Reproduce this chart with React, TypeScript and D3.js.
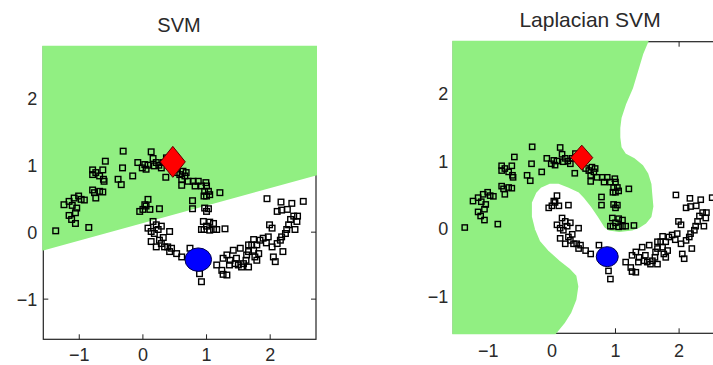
import React from 'react';
import * as d3 from 'd3';

// two moons (data units)
const upperMoon: [number, number][] = [
  [-1.37, 0.02], [-1.24, 0.41], [-1.16, 0.46], [-1.08, 0.51], [-1.01, 0.54], [-0.97, 0.49],
  [-0.92, 0.48], [-1.11, 0.40], [-1.04, 0.36], [-1.06, 0.29], [-1.16, 0.25], [-1.12, 0.19],
  [-1.06, 0.13], [-0.85, 0.07], [-0.79, 0.93], [-0.79, 0.86], [-0.74, 0.89], [-0.68, 0.84],
  [-0.63, 0.93], [-0.62, 0.79], [-0.61, 0.76], [-0.59, 1.06], [-0.79, 0.63], [-0.76, 0.59],
  [-0.74, 0.51], [-0.68, 0.61], [-0.63, 0.60], [-0.39, 0.79], [-0.34, 0.71], [-0.32, 0.96],
  [-0.31, 1.21], [-0.16, 0.84], [-0.08, 1.04], [-0.01, 0.96], [0.03, 1.01], [0.05, 0.94],
  [0.08, 1.00], [0.13, 1.20], [0.16, 1.10], [0.18, 0.99], [0.21, 1.04], [0.25, 1.00],
  [0.29, 0.96], [0.32, 1.04], [0.36, 0.82], [0.37, 1.11], [0.53, 0.89], [0.58, 0.86],
  [0.61, 0.79], [0.63, 0.91], [0.68, 0.89], [0.61, 0.70], [0.66, 0.84], [0.71, 0.76],
  [0.79, 0.76], [0.82, 0.69], [0.87, 0.76], [0.92, 0.69], [0.99, 0.74], [1.00, 0.69],
  [0.97, 0.61], [1.03, 0.61], [0.96, 0.54], [1.00, 0.54], [1.05, 0.56], [1.21, 0.59],
  [0.78, 0.47], [0.78, 0.35], [0.97, 0.36], [1.03, 0.35], [1.00, 0.31], [0.95, 0.16],
  [0.96, 0.04], [1.00, 0.09], [1.05, 0.15], [1.11, 0.13], [1.16, 0.04], [1.29, 0.05],
  [0.92, 0.04], [1.05, 0.03], [1.11, 0.04],
];

const lowerMoon: [number, number][] = [
  [-0.05, 0.31], [0.00, 0.34], [0.05, 0.39], [0.08, 0.49], [0.11, 0.34], [0.03, 0.41],
  [0.26, 0.35], [0.08, 0.06], [0.16, 0.16], [0.21, 0.11], [0.24, 0.04], [0.13, 0.01],
  [0.18, -0.02], [0.29, 0.09], [0.42, 0.01], [0.13, -0.14], [0.21, -0.22], [0.26, -0.12],
  [0.32, -0.08], [0.29, -0.17], [0.34, -0.22], [0.39, -0.22], [0.42, -0.29], [0.45, -0.24],
  [0.53, -0.32], [0.61, -0.37], [0.74, -0.24], [0.89, -0.62], [0.92, -0.74], [1.16, -0.49],
  [1.24, -0.57], [1.26, -0.63], [1.32, -0.64], [1.36, -0.49], [1.26, -0.39], [1.32, -0.34],
  [1.42, -0.27], [1.50, -0.49], [1.55, -0.52], [1.58, -0.47], [1.62, -0.42], [1.66, -0.52],
  [1.63, -0.34], [1.66, -0.29], [1.74, -0.27], [1.76, -0.37], [1.79, -0.42], [1.82, -0.32],
  [1.79, -0.19], [1.84, -0.12], [1.89, -0.09], [1.94, -0.16], [1.97, -0.07], [2.03, -0.22],
  [2.05, -0.37], [2.08, -0.44], [2.11, -0.17], [2.16, -0.12], [2.20, -0.29], [2.18, -0.07],
  [2.24, -0.02], [2.26, 0.04], [2.29, 0.11], [2.32, 0.19], [2.37, 0.24], [2.39, 0.04],
  [2.42, 0.16], [2.43, 0.24], [2.11, 0.31], [2.18, 0.33], [2.27, 0.34], [2.34, 0.43],
  [2.17, 0.45], [1.95, 0.50], [1.99, 0.11], [2.03, 0.06], [2.52, 0.46], [1.74, -0.11],
  [1.66, -0.19], [1.71, -0.19], [1.53, -0.24], [1.47, -0.39], [1.45, -0.47], [1.37, -0.42],
];

const positiveLabel: [number, number] = [0.47, 1.05];
const negativeLabel: [number, number] = [0.87, -0.41];

const xTicks = [-1, 0, 1, 2];
const yTicks = [-1, 0, 1, 2];

// linear svm decision line (left/right ends)
const svmLine: [number, number][] = [[-1.57, -0.26], [2.75, 0.87]];

// laplacian svm decision boundary, top edge down to bottom edge
const lapsvmBoundary: [number, number][] = [
  [1.50, 2.76], [1.42, 2.58], [1.34, 2.33], [1.26, 2.08], [1.15, 1.84], [1.08, 1.64],
  [1.06, 1.49], [1.06, 1.35], [1.08, 1.20], [1.15, 1.10], [1.29, 1.03], [1.42, 0.93],
  [1.50, 0.81], [1.55, 0.66], [1.56, 0.54], [1.58, 0.33], [1.55, 0.18], [1.47, 0.09],
  [1.37, 0.03], [1.26, -0.01], [1.06, -0.03], [0.90, -0.01], [0.84, 0.03], [0.74, 0.18],
  [0.63, 0.33], [0.52, 0.46], [0.43, 0.55], [0.27, 0.62], [0.11, 0.68], [-0.04, 0.68],
  [-0.18, 0.62], [-0.26, 0.54], [-0.33, 0.39], [-0.33, 0.18], [-0.28, -0.01], [-0.20, -0.19],
  [-0.07, -0.33], [0.11, -0.48], [0.27, -0.60], [0.37, -0.70], [0.40, -0.85], [0.37, -1.04],
  [0.29, -1.23], [0.19, -1.38], [0.05, -1.54],
];

const GREEN = '#91ef82';
const FONT = '"Liberation Sans", Arial, Helvetica, sans-serif';

type Panel = {
  title: string;
  titleSize: number;
  titleX: number;
  titleY: number;
  left: number;
  top: number;
  width: number;
  height: number;
  xDomain: [number, number];
  yDomain: [number, number];
  labelGap: number;
  xLabelDy: number;
  sq: number;
  diamond: [number, number];
  ball: [number, number];
  region: 'svm' | 'lap';
};

const panels: Panel[] = [
  {
    title: 'SVM', titleSize: 20, titleX: 179, titleY: 32,
    left: 43.3, top: 46.7, width: 272.7, height: 292.6,
    xDomain: [-1.565, 2.72], yDomain: [-1.6, 2.77], labelGap: 6, xLabelDy: 22,
    sq: 5.6, diamond: [12.5, 15.5], ball: [13.3, 11.7], region: 'svm',
  },
  {
    title: 'Laplacian SVM', titleSize: 21, titleX: 590, titleY: 27,
    left: 453.3, top: 41.7, width: 273.5, height: 291.6,
    xDomain: [-1.55, 2.75], yDomain: [-1.54, 2.76], labelGap: 5, xLabelDy: 24,
    sq: 5.3, diamond: [11, 12.5], ball: [11, 10], region: 'lap',
  },
];

const fmt = d3.format('d');

const PanelView = ({ p }: { p: Panel }) => {
  const x = d3.scaleLinear().domain(p.xDomain).range([p.left, p.left + p.width]);
  const y = d3.scaleLinear().domain(p.yDomain).range([p.top + p.height, p.top]);
  const [x0, x1] = p.xDomain;
  const [y0, y1] = p.yDomain;

  let poly: [number, number][];
  if (p.region === 'svm') {
    const slope = (svmLine[1][1] - svmLine[0][1]) / (svmLine[1][0] - svmLine[0][0]);
    const at = (xx: number) => svmLine[0][1] + slope * (xx - svmLine[0][0]);
    poly = [[x0, y1], [x1, y1], [x1, at(x1)], [x0, at(x0)]];
  } else {
    poly = [[x0, y1], ...lapsvmBoundary, [x0, y0]];
  }
  const line = d3.line<[number, number]>().x((d) => x(d[0])).y((d) => y(d[1]));
  const bottom = p.top + p.height;
  const right = p.left + p.width;
  const tl = 5;
  const pts = upperMoon.concat(lowerMoon);

  return (
    <g>
      <text x={p.titleX} y={p.titleY} textAnchor="middle" fontFamily={FONT}
        fontSize={p.titleSize} fill="#2a2a2a">{p.title}</text>
      <rect x={p.left} y={p.top} width={p.width} height={p.height}
        fill="none" stroke="#222" strokeWidth={1.2} />
      {xTicks.map((t) => (
        <g key={'xt' + t}>
          <line x1={x(t)} x2={x(t)} y1={bottom} y2={bottom - tl} stroke="#222" />
          <line x1={x(t)} x2={x(t)} y1={p.top} y2={p.top + tl} stroke="#222" />
          <text x={x(t)} y={bottom + p.xLabelDy} textAnchor="middle" fontFamily={FONT}
            fontSize={18} fill="#2a2a2a">{fmt(t)}</text>
        </g>
      ))}
      {yTicks.map((t) => (
        <g key={'yt' + t}>
          <line x1={p.left} x2={p.left + tl} y1={y(t)} y2={y(t)} stroke="#222" />
          <line x1={right} x2={right - tl} y1={y(t)} y2={y(t)} stroke="#222" />
          <text x={p.left - p.labelGap} y={y(t) + 6.5} textAnchor="end" fontFamily={FONT}
            fontSize={18} fill="#2a2a2a">{fmt(t)}</text>
        </g>
      ))}
      <path d={line(poly) + 'Z'} fill={GREEN} stroke={GREEN} strokeWidth={2} />
      {pts.map((d, i) => (
        <rect key={i} x={x(d[0]) - p.sq / 2} y={y(d[1]) - p.sq / 2} width={p.sq} height={p.sq}
          fill="none" stroke="#000" strokeWidth={1.4} />
      ))}
      <path
        d={`M${x(positiveLabel[0])},${y(positiveLabel[1]) - p.diamond[1]}
            L${x(positiveLabel[0]) + p.diamond[0]},${y(positiveLabel[1])}
            L${x(positiveLabel[0])},${y(positiveLabel[1]) + p.diamond[1]}
            L${x(positiveLabel[0]) - p.diamond[0]},${y(positiveLabel[1])}Z`}
        fill="#ff0000" stroke="#5a0000" strokeWidth={1} />
      <ellipse cx={x(negativeLabel[0])} cy={y(negativeLabel[1])} rx={p.ball[0]} ry={p.ball[1]}
        fill="#0000ff" stroke="#00004a" strokeWidth={1} />
    </g>
  );
};

export default function App() {
  return (
    <svg width={713} height={365} style={{ position: 'absolute', left: 0, top: 0, background: '#fff' }}>
      <rect width={713} height={365} fill="#fff" />
      {panels.map((p) => <PanelView key={p.title} p={p} />)}
    </svg>
  );
}
